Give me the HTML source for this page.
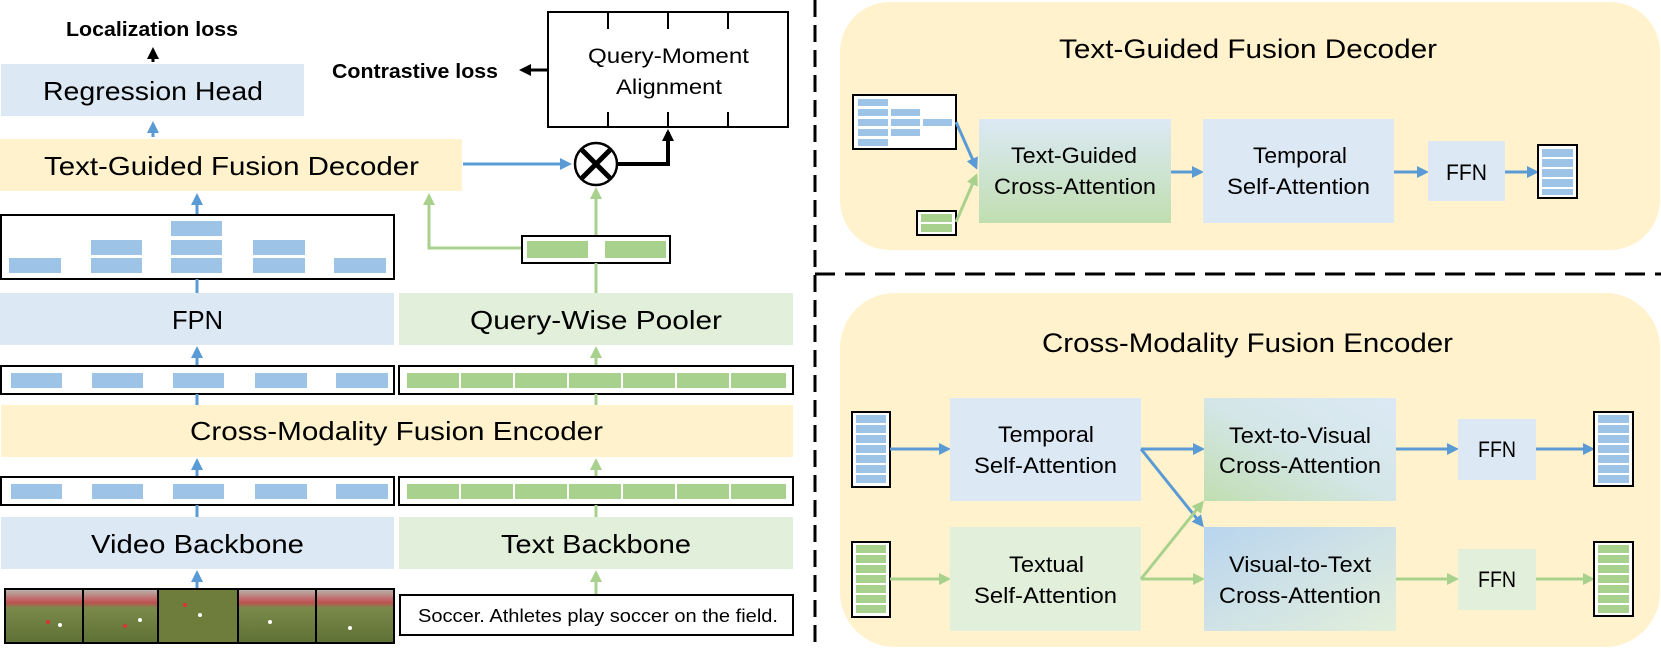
<!DOCTYPE html>
<html><head><meta charset="utf-8"><style>html,body{margin:0;padding:0;background:#fff}svg{display:block}text{font-family:"Liberation Sans",sans-serif;fill:#000}</style></head><body>
<svg width="1661" height="648" viewBox="0 0 1661 648" xmlns="http://www.w3.org/2000/svg">
<defs>
<marker id="ab" markerWidth="12" markerHeight="12" refX="9" refY="6" orient="auto" markerUnits="userSpaceOnUse"><path d="M0,0 L12,6 L0,12 Z" fill="#5b9bd5"/></marker>
<marker id="ag" markerWidth="12" markerHeight="12" refX="9" refY="6" orient="auto" markerUnits="userSpaceOnUse"><path d="M0,0 L12,6 L0,12 Z" fill="#a9d18e"/></marker>
<marker id="ak" markerWidth="12" markerHeight="12" refX="9" refY="6" orient="auto" markerUnits="userSpaceOnUse"><path d="M0,0 L12,6 L0,12 Z" fill="#000"/></marker>
<linearGradient id="gtg" x1="0" y1="0" x2="0" y2="1"><stop offset="0" stop-color="#dce9f5"/><stop offset="1" stop-color="#c0deb0"/></linearGradient>
<linearGradient id="gtv" x1="1" y1="0" x2="0" y2="1"><stop offset="0" stop-color="#dce9f5"/><stop offset="0.5" stop-color="#d4e6e8"/><stop offset="1" stop-color="#c0deb0"/></linearGradient>
<linearGradient id="gvt" x1="0" y1="0" x2="1" y2="1"><stop offset="0" stop-color="#b8d4ee"/><stop offset="0.5" stop-color="#cfe2e6"/><stop offset="1" stop-color="#e2efda"/></linearGradient>
<linearGradient id="field" x1="0" y1="0" x2="0" y2="1"><stop offset="0" stop-color="#b8b8b0"/><stop offset="0.25" stop-color="#c05050"/><stop offset="0.35" stop-color="#7a8a4a"/><stop offset="1" stop-color="#5e7035"/></linearGradient>
</defs>

<line x1="815" y1="0" x2="815" y2="648" stroke="#000" stroke-width="3" stroke-dasharray="17,8"/>
<line x1="815" y1="274" x2="1661" y2="274" stroke="#000" stroke-width="3" stroke-dasharray="20,10"/>

<text x="66" y="36" font-size="20" font-weight="bold" textLength="172" lengthAdjust="spacingAndGlyphs">Localization loss</text>
<line x1="153" y1="62" x2="153" y2="50" stroke="#000" stroke-width="3" marker-end="url(#ak)"/>
<rect x="1" y="64" width="303" height="52" fill="#dce9f5"/>
<text x="43" y="100" font-size="26" textLength="220" lengthAdjust="spacingAndGlyphs">Regression Head</text>
<line x1="153" y1="137" x2="153" y2="124" stroke="#5b9bd5" stroke-width="3" marker-end="url(#ab)"/>
<rect x="0" y="139" width="462" height="52" fill="#fff2cc"/>
<text x="44" y="175" font-size="26" textLength="375" lengthAdjust="spacingAndGlyphs">Text-Guided Fusion Decoder</text>

<text x="332" y="78" font-size="20" font-weight="bold" textLength="166" lengthAdjust="spacingAndGlyphs">Contrastive loss</text>
<line x1="570" y1="70" x2="522" y2="70" stroke="#000" stroke-width="3" marker-end="url(#ak)"/>
<rect x="548" y="12" width="240" height="115" fill="#fff" stroke="#000" stroke-width="2"/>
<g stroke="#000" stroke-width="2"><line x1="608" y1="12" x2="608" y2="29"/><line x1="668" y1="12" x2="668" y2="29"/><line x1="728" y1="12" x2="728" y2="29"/><line x1="608" y1="127" x2="608" y2="112"/><line x1="668" y1="127" x2="668" y2="112"/><line x1="728" y1="127" x2="728" y2="112"/></g>
<text x="588" y="63" font-size="21" textLength="161" lengthAdjust="spacingAndGlyphs">Query-Moment</text>
<text x="616" y="94" font-size="21" textLength="106" lengthAdjust="spacingAndGlyphs">Alignment</text>

<line x1="463" y1="164" x2="569" y2="164" stroke="#5b9bd5" stroke-width="3" marker-end="url(#ab)"/>
<circle cx="596" cy="164" r="21" fill="#fff" stroke="#000" stroke-width="2.5"/>
<line x1="582" y1="150" x2="610" y2="178" stroke="#000" stroke-width="5"/>
<line x1="610" y1="150" x2="582" y2="178" stroke="#000" stroke-width="5"/>
<polyline points="617,164 668,164 668,132" fill="none" stroke="#000" stroke-width="4" marker-end="url(#ak)"/>
<line x1="596" y1="236" x2="596" y2="190" stroke="#a9d18e" stroke-width="3" marker-end="url(#ag)"/>
<polyline points="522,248 429,248 429,196" fill="none" stroke="#a9d18e" stroke-width="3" marker-end="url(#ag)"/>
<rect x="522" y="236" width="148" height="27" fill="#fff" stroke="#000" stroke-width="2"/>
<rect x="527" y="241" width="61" height="17" fill="#a9d18e"/><rect x="605" y="241" width="61" height="17" fill="#a9d18e"/>
<line x1="596" y1="293" x2="596" y2="263" stroke="#a9d18e" stroke-width="3"/>

<line x1="197" y1="215" x2="197" y2="196" stroke="#5b9bd5" stroke-width="3" marker-end="url(#ab)"/>
<rect x="1" y="215" width="393" height="64" fill="#fff" stroke="#000" stroke-width="2"/>
<g fill="#9dc3e6">
<rect x="9" y="258" width="52" height="15"/>
<rect x="91" y="258" width="51" height="15"/><rect x="91" y="240" width="51" height="15"/>
<rect x="171" y="258" width="51" height="15"/><rect x="171" y="240" width="51" height="15"/><rect x="171" y="221" width="51" height="15"/>
<rect x="253" y="258" width="52" height="15"/><rect x="253" y="240" width="52" height="15"/>
<rect x="334" y="258" width="52" height="15"/>
</g>
<line x1="197" y1="279" x2="197" y2="293" stroke="#5b9bd5" stroke-width="3"/>

<rect x="0" y="293" width="394" height="52" fill="#dce9f5"/>
<text x="172" y="329" font-size="26" textLength="51" lengthAdjust="spacingAndGlyphs">FPN</text>
<rect x="399" y="293" width="394" height="52" fill="#e2efda"/>
<text x="470" y="329" font-size="26" textLength="252" lengthAdjust="spacingAndGlyphs">Query-Wise Pooler</text>

<line x1="197" y1="366" x2="197" y2="349" stroke="#5b9bd5" stroke-width="3" marker-end="url(#ab)"/>
<line x1="596" y1="366" x2="596" y2="349" stroke="#a9d18e" stroke-width="3" marker-end="url(#ag)"/>
<rect x="1" y="366" width="393" height="28" fill="#fff" stroke="#000" stroke-width="2"/>
<rect x="399" y="366" width="394" height="28" fill="#fff" stroke="#000" stroke-width="2"/>
<g fill="#9dc3e6"><rect x="11" y="373" width="51" height="15"/><rect x="92" y="373" width="51" height="15"/><rect x="173" y="373" width="51" height="15"/><rect x="255" y="373" width="52" height="15"/><rect x="336" y="373" width="52" height="15"/></g>
<g fill="#a9d18e"><rect x="407" y="373" width="52" height="15"/><rect x="461" y="373" width="52" height="15"/><rect x="515" y="373" width="52" height="15"/><rect x="569" y="373" width="52" height="15"/><rect x="623" y="373" width="52" height="15"/><rect x="677" y="373" width="52" height="15"/><rect x="731" y="373" width="55" height="15"/></g>
<line x1="197" y1="394" x2="197" y2="405" stroke="#5b9bd5" stroke-width="3"/>
<line x1="596" y1="394" x2="596" y2="405" stroke="#a9d18e" stroke-width="3"/>

<rect x="1" y="405" width="792" height="52" fill="#fff2cc"/>
<text x="190" y="440" font-size="26" textLength="413" lengthAdjust="spacingAndGlyphs">Cross-Modality Fusion Encoder</text>

<line x1="197" y1="477" x2="197" y2="461" stroke="#5b9bd5" stroke-width="3" marker-end="url(#ab)"/>
<line x1="596" y1="477" x2="596" y2="461" stroke="#a9d18e" stroke-width="3" marker-end="url(#ag)"/>
<rect x="1" y="477" width="393" height="28" fill="#fff" stroke="#000" stroke-width="2"/>
<rect x="399" y="477" width="394" height="28" fill="#fff" stroke="#000" stroke-width="2"/>
<g fill="#9dc3e6"><rect x="11" y="484" width="51" height="15"/><rect x="92" y="484" width="51" height="15"/><rect x="173" y="484" width="51" height="15"/><rect x="255" y="484" width="52" height="15"/><rect x="336" y="484" width="52" height="15"/></g>
<g fill="#a9d18e"><rect x="407" y="484" width="52" height="15"/><rect x="461" y="484" width="52" height="15"/><rect x="515" y="484" width="52" height="15"/><rect x="569" y="484" width="52" height="15"/><rect x="623" y="484" width="52" height="15"/><rect x="677" y="484" width="52" height="15"/><rect x="731" y="484" width="55" height="15"/></g>
<line x1="197" y1="505" x2="197" y2="517" stroke="#5b9bd5" stroke-width="3"/>
<line x1="596" y1="505" x2="596" y2="517" stroke="#a9d18e" stroke-width="3"/>

<rect x="1" y="517" width="393" height="52" fill="#dce9f5"/>
<text x="91" y="553" font-size="26" textLength="213" lengthAdjust="spacingAndGlyphs">Video Backbone</text>
<rect x="399" y="517" width="394" height="52" fill="#e2efda"/>
<text x="501" y="553" font-size="26" textLength="190" lengthAdjust="spacingAndGlyphs">Text Backbone</text>

<line x1="197" y1="589" x2="197" y2="573" stroke="#5b9bd5" stroke-width="3" marker-end="url(#ab)"/>
<line x1="596" y1="595" x2="596" y2="573" stroke="#a9d18e" stroke-width="3" marker-end="url(#ag)"/>
<rect x="5" y="589" width="389" height="54" fill="url(#field)"/>
<rect x="158" y="589" width="80" height="54" fill="#6e7d3c"/>
<g fill="#fff"><circle cx="60" cy="625" r="2"/><circle cx="140" cy="620" r="2"/><circle cx="200" cy="615" r="2"/><circle cx="270" cy="622" r="2"/><circle cx="350" cy="628" r="2"/></g>
<g fill="#d33"><circle cx="48" cy="622" r="2"/><circle cx="125" cy="626" r="2"/><circle cx="185" cy="605" r="2"/></g>
<g stroke="#000" stroke-width="2"><line x1="83" y1="589" x2="83" y2="643"/><line x1="158" y1="589" x2="158" y2="643"/><line x1="238" y1="589" x2="238" y2="643"/><line x1="316" y1="589" x2="316" y2="643"/></g>
<rect x="5" y="589" width="389" height="54" fill="none" stroke="#000" stroke-width="2"/>
<rect x="400" y="595" width="393" height="40" fill="#fff" stroke="#000" stroke-width="2"/>
<text x="418" y="622" font-size="18" textLength="360" lengthAdjust="spacingAndGlyphs">Soccer. Athletes play soccer on the field.</text>

<rect x="840" y="2" width="820" height="248" rx="50" fill="#fff2cc"/>
<text x="1059" y="58" font-size="27" textLength="378" lengthAdjust="spacingAndGlyphs">Text-Guided Fusion Decoder</text>
<rect x="853" y="95" width="103" height="54" fill="#fff" stroke="#000" stroke-width="2"/>
<g fill="#9dc3e6">
<rect x="858" y="99" width="30" height="7"/><rect x="858" y="109" width="30" height="7"/><rect x="858" y="119" width="30" height="7"/><rect x="858" y="129" width="30" height="7"/><rect x="858" y="139" width="30" height="7"/>
<rect x="891" y="109" width="29" height="7"/><rect x="891" y="119" width="29" height="7"/><rect x="891" y="129" width="29" height="7"/>
<rect x="923" y="119" width="29" height="7"/></g>
<rect x="917" y="211" width="39" height="24" fill="#fff" stroke="#000" stroke-width="2"/>
<rect x="921" y="214" width="31" height="8" fill="#a9d18e"/><rect x="921" y="224" width="31" height="8" fill="#a9d18e"/>
<line x1="956" y1="122" x2="976" y2="167" stroke="#5b9bd5" stroke-width="3" marker-end="url(#ab)"/>
<line x1="956" y1="222" x2="976" y2="176" stroke="#a9d18e" stroke-width="3" marker-end="url(#ag)"/>
<rect x="979" y="119" width="192" height="104" fill="url(#gtg)"/>
<text x="1011" y="163" font-size="22" textLength="126" lengthAdjust="spacingAndGlyphs">Text-Guided</text>
<text x="994" y="194" font-size="22" textLength="162" lengthAdjust="spacingAndGlyphs">Cross-Attention</text>
<line x1="1171" y1="172" x2="1201" y2="172" stroke="#5b9bd5" stroke-width="3" marker-end="url(#ab)"/>
<rect x="1203" y="119" width="191" height="104" fill="#dce9f5"/>
<text x="1253" y="163" font-size="22" textLength="94" lengthAdjust="spacingAndGlyphs">Temporal</text>
<text x="1227" y="194" font-size="22" textLength="143" lengthAdjust="spacingAndGlyphs">Self-Attention</text>
<line x1="1394" y1="172" x2="1426" y2="172" stroke="#5b9bd5" stroke-width="3" marker-end="url(#ab)"/>
<rect x="1428" y="141" width="77" height="60" fill="#dce9f5"/>
<text x="1446" y="180" font-size="22" textLength="41" lengthAdjust="spacingAndGlyphs">FFN</text>
<line x1="1505" y1="172" x2="1536" y2="172" stroke="#5b9bd5" stroke-width="3" marker-end="url(#ab)"/>
<rect x="1538" y="145" width="39" height="53" fill="#fff" stroke="#000" stroke-width="2"/>
<g fill="#9dc3e6"><rect x="1542" y="149" width="31" height="8"/><rect x="1542" y="159" width="31" height="8"/><rect x="1542" y="169" width="31" height="8"/><rect x="1542" y="179" width="31" height="8"/><rect x="1542" y="189" width="31" height="6"/></g>

<rect x="840" y="293" width="820" height="354" rx="55" fill="#fff2cc"/>
<text x="1042" y="352" font-size="27" textLength="411" lengthAdjust="spacingAndGlyphs">Cross-Modality Fusion Encoder</text>
<rect x="852" y="412" width="38" height="75" fill="#fff" stroke="#000" stroke-width="2"/>
<g fill="#9dc3e6"><rect x="856" y="415" width="30" height="8"/><rect x="856" y="425" width="30" height="8"/><rect x="856" y="435" width="30" height="8"/><rect x="856" y="445" width="30" height="8"/><rect x="856" y="455" width="30" height="8"/><rect x="856" y="465" width="30" height="8"/><rect x="856" y="475" width="30" height="8"/></g>
<rect x="852" y="542" width="38" height="75" fill="#fff" stroke="#000" stroke-width="2"/>
<g fill="#a9d18e"><rect x="856" y="545" width="30" height="8"/><rect x="856" y="555" width="30" height="8"/><rect x="856" y="565" width="30" height="8"/><rect x="856" y="575" width="30" height="8"/><rect x="856" y="585" width="30" height="8"/><rect x="856" y="595" width="30" height="8"/><rect x="856" y="605" width="30" height="8"/></g>
<line x1="890" y1="449" x2="948" y2="449" stroke="#5b9bd5" stroke-width="3" marker-end="url(#ab)"/>
<line x1="890" y1="579" x2="948" y2="579" stroke="#a9d18e" stroke-width="3" marker-end="url(#ag)"/>
<rect x="950" y="398" width="191" height="103" fill="#dce9f5"/>
<text x="998" y="442" font-size="22" textLength="96" lengthAdjust="spacingAndGlyphs">Temporal</text>
<text x="974" y="473" font-size="22" textLength="143" lengthAdjust="spacingAndGlyphs">Self-Attention</text>
<rect x="950" y="527" width="191" height="104" fill="#e2efda"/>
<text x="1009" y="572" font-size="22" textLength="75" lengthAdjust="spacingAndGlyphs">Textual</text>
<text x="974" y="603" font-size="22" textLength="143" lengthAdjust="spacingAndGlyphs">Self-Attention</text>
<line x1="1141" y1="449" x2="1202" y2="449" stroke="#5b9bd5" stroke-width="3" marker-end="url(#ab)"/>
<line x1="1141" y1="449" x2="1202" y2="525" stroke="#5b9bd5" stroke-width="3" marker-end="url(#ab)"/>
<line x1="1141" y1="579" x2="1202" y2="579" stroke="#a9d18e" stroke-width="3" marker-end="url(#ag)"/>
<line x1="1141" y1="579" x2="1202" y2="503" stroke="#a9d18e" stroke-width="3" marker-end="url(#ag)"/>
<rect x="1204" y="398" width="192" height="103" fill="url(#gtv)"/>
<text x="1229" y="443" font-size="22" textLength="142" lengthAdjust="spacingAndGlyphs">Text-to-Visual</text>
<text x="1219" y="473" font-size="22" textLength="162" lengthAdjust="spacingAndGlyphs">Cross-Attention</text>
<rect x="1204" y="527" width="192" height="104" fill="url(#gvt)"/>
<text x="1229" y="572" font-size="22" textLength="142" lengthAdjust="spacingAndGlyphs">Visual-to-Text</text>
<text x="1219" y="603" font-size="22" textLength="162" lengthAdjust="spacingAndGlyphs">Cross-Attention</text>
<line x1="1396" y1="449" x2="1456" y2="449" stroke="#5b9bd5" stroke-width="3" marker-end="url(#ab)"/>
<line x1="1396" y1="579" x2="1456" y2="579" stroke="#a9d18e" stroke-width="3" marker-end="url(#ag)"/>
<rect x="1458" y="419" width="78" height="61" fill="#dce9f5"/>
<text x="1478" y="457" font-size="22" textLength="38" lengthAdjust="spacingAndGlyphs">FFN</text>
<rect x="1458" y="549" width="78" height="61" fill="#e2efda"/>
<text x="1478" y="587" font-size="22" textLength="38" lengthAdjust="spacingAndGlyphs">FFN</text>
<line x1="1536" y1="449" x2="1592" y2="449" stroke="#5b9bd5" stroke-width="3" marker-end="url(#ab)"/>
<line x1="1536" y1="579" x2="1592" y2="579" stroke="#a9d18e" stroke-width="3" marker-end="url(#ag)"/>
<rect x="1594" y="412" width="39" height="74" fill="#fff" stroke="#000" stroke-width="2"/>
<g fill="#9dc3e6"><rect x="1598" y="415" width="31" height="8"/><rect x="1598" y="425" width="31" height="8"/><rect x="1598" y="435" width="31" height="8"/><rect x="1598" y="445" width="31" height="8"/><rect x="1598" y="455" width="31" height="8"/><rect x="1598" y="465" width="31" height="8"/><rect x="1598" y="475" width="31" height="8"/></g>
<rect x="1594" y="542" width="39" height="74" fill="#fff" stroke="#000" stroke-width="2"/>
<g fill="#a9d18e"><rect x="1598" y="545" width="31" height="8"/><rect x="1598" y="555" width="31" height="8"/><rect x="1598" y="565" width="31" height="8"/><rect x="1598" y="575" width="31" height="8"/><rect x="1598" y="585" width="31" height="8"/><rect x="1598" y="595" width="31" height="8"/><rect x="1598" y="605" width="31" height="8"/></g>
</svg>
</body></html>
